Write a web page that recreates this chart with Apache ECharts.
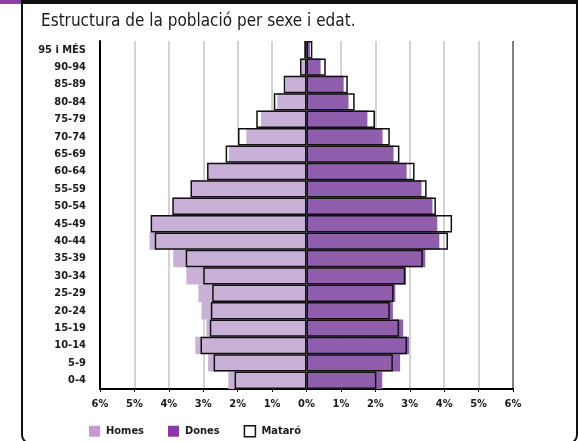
<!DOCTYPE html>
<html>
<head>
<meta charset="utf-8">
<script src="https://cdn.jsdelivr.net/npm/echarts@6/dist/echarts.min.js"></script>
<style>
html,body{margin:0;padding:0;background:#fff;}
#chart{width:578px;height:441px;}
</style>
</head>
<body>
<div id="chart"></div>
<script>
var ages = ['95 i MÉS','90-94','85-89','80-84','75-79','70-74','65-69','60-64','55-59','50-54','45-49','40-44','35-39','30-34','25-29','20-24','15-19','10-14','5-9','0-4'];
var homes = [0.04,0.15,0.60,0.85,1.32,1.75,2.25,2.86,3.35,3.88,4.50,4.56,3.87,3.49,3.14,3.05,2.91,3.23,2.86,2.27];
var dones = [0.10,0.41,1.08,1.22,1.77,2.21,2.53,2.91,3.34,3.66,3.80,3.86,3.45,2.89,2.58,2.51,2.81,2.98,2.72,2.20];
var mataroHomes = [0.065,0.19,0.66,0.95,1.46,1.99,2.35,2.89,3.37,3.90,4.53,4.41,3.51,3.00,2.74,2.78,2.81,3.08,2.70,2.09];
var mataroDones = [0.17,0.56,1.20,1.40,1.99,2.42,2.70,3.14,3.49,3.76,4.23,4.11,3.38,2.87,2.53,2.42,2.69,2.92,2.51,2.03];
var xTicks = [-6,-5,-4,-3,-2,-1,0,1,2,3,4,5,6];

var FONT = '"Liberation Sans Narrow", "DejaVu Sans Condensed", sans-serif';
var neg = function(a){ return a.map(function(v){ return -v; }); };
var splitColors = xTicks.map(function(t){ return t === 6 ? '#555' : (t === -6 ? '#000' : '#c4c4c4'); });

var chart = echarts.init(document.getElementById('chart'), null, {renderer:'canvas'});
chart.setOption({
  animation: false,
  backgroundColor: '#fff',
  title: {
    text: 'Estructura de la població per sexe i edat.',
    left: 41, top: 13, padding: 0,
    textStyle: {fontFamily: FONT, fontSize: 17, fontWeight: 'normal', color: '#1a1a1a'}
  },
  graphic: [
    {type:'rect', shape:{x:22, y:-20, width:555, height:463, r:8}, style:{fill:'none', stroke:'#111', lineWidth:2}, z:100},
    {type:'rect', shape:{x:0, y:0, width:578, height:4}, style:{fill:'#111'}, z:101},
    {type:'rect', shape:{x:0, y:0, width:21, height:4}, style:{fill:'#8a3fa8'}, z:102}
  ],
  legend: {
    left: 89, top: 425, padding: 0,
    itemWidth: 11, itemHeight: 11, itemGap: 24,
    icon: 'rect',
    textStyle: {fontFamily: FONT, fontSize: 11, fontWeight: 'bold', color: '#1a1a1a', padding:[0,0,0,1]},
    data: [
      {name:'Homes', itemStyle:{color:'#c49ad4', borderWidth:0}},
      {name:'Dones', itemStyle:{color:'#8b37a8', borderWidth:0}},
      {name:'Mataró', itemStyle:{color:'#fff', borderColor:'#111', borderWidth:1.5}}
    ]
  },
  grid: {left: 100, right: 65, top: 41, bottom: 52, containLabel: false},
  xAxis: {
    type: 'value', min: -6, max: 6, interval: 1,
    axisLine: {show: true, onZero: false, lineStyle: {color: '#000', width: 2}},
    axisTick: {show: true, length: 3, lineStyle: {color: '#000', width: 1}},
    axisLabel: {
      formatter: function(v){ return Math.abs(v) + '%'; },
      fontFamily: FONT, fontSize: 11, fontWeight: 'bold', color: '#1a1a1a', margin: 10
    },
    splitLine: {show: true, lineStyle: {color: splitColors, width: 1.5}}
  },
  yAxis: {
    type: 'category', data: ages, inverse: true,
    axisLine: {show: true, onZero: false, lineStyle: {color: '#000', width: 2}},
    axisTick: {show: false},
    axisLabel: {fontFamily: FONT, fontSize: 11, fontWeight: 'bold', color: '#1a1a1a', margin: 14}
  },
  series: [
    {name:'Homes', type:'bar', data: neg(homes), barGap:'-100%', barCategoryGap:0,
     itemStyle:{color:'#c9b0d7'}},
    {name:'Dones', type:'bar', data: dones, barGap:'-100%', barCategoryGap:0,
     itemStyle:{color:'#915eae'}},
    {name:'Mataró', type:'bar', data: neg(mataroHomes), barGap:'-100%', barCategoryGap:0,
     itemStyle:{color:'rgba(0,0,0,0)', borderColor:'#111', borderWidth:1.5}},
    {name:'Mataró', type:'bar', data: mataroDones, barGap:'-100%', barCategoryGap:0,
     itemStyle:{color:'rgba(0,0,0,0)', borderColor:'#111', borderWidth:1.5}}
  ]
});
</script>
</body>
</html>
